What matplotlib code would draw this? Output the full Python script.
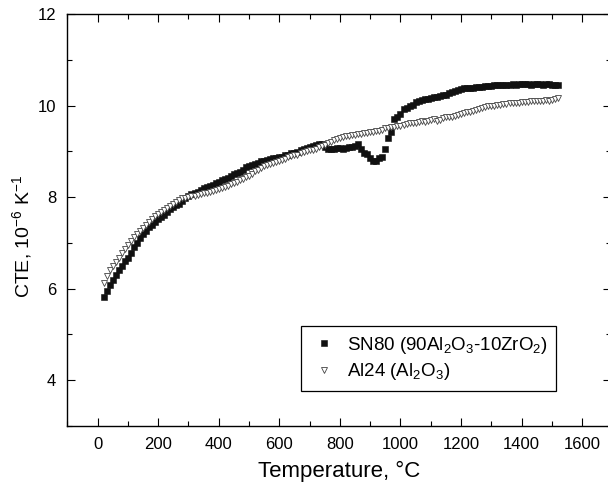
import matplotlib
matplotlib.use('Agg')
import matplotlib.pyplot as plt
from matplotlib.ticker import MultipleLocator

#温度 (°C)
temp = [20, 30, 40, 50, 60, 70, 80, 90, 100, 110,
        120, 130, 140, 150, 160, 170, 180, 190, 200, 210,
        220, 230, 240, 250, 260, 270, 280, 290, 300, 310,
        320, 330, 340, 350, 360, 370, 380, 390, 400, 410,
        420, 430, 440, 450, 460, 470, 480, 490, 500, 510,
        520, 530, 540, 550, 560, 570, 580, 590, 600, 610,
        620, 630, 640, 650, 660, 670, 680, 690, 700, 710,
        720, 730, 740, 750, 760, 770, 780, 790, 800, 810,
        820, 830, 840, 850, 860, 870, 880, 890, 900, 910,
        920, 930, 940, 950, 960, 970, 980, 990, 1000, 1010,
        1020, 1030, 1040, 1050, 1060, 1070, 1080, 1090, 1100, 1110,
        1120, 1130, 1140, 1150, 1160, 1170, 1180, 1190, 1200, 1210,
        1220, 1230, 1240, 1250, 1260, 1270, 1280, 1290, 1300, 1310,
        1320, 1330, 1340, 1350, 1360, 1370, 1380, 1390, 1400, 1410,
        1420, 1430, 1440, 1450, 1460, 1470, 1480, 1490, 1500, 1510,
        1520]

#SN80 (90Al2O3-10ZrO2) のCTE
cte_sn80 = [5.82, 5.95, 6.08, 6.20, 6.30, 6.40, 6.50, 6.60, 6.68, 6.78,
            6.90, 7.00, 7.10, 7.19, 7.27, 7.34, 7.40, 7.45, 7.52, 7.56,
            7.62, 7.68, 7.73, 7.78, 7.82, 7.86, 7.92, 7.98, 8.03, 8.06,
            8.08, 8.12, 8.16, 8.20, 8.22, 8.24, 8.27, 8.30, 8.34, 8.37,
            8.39, 8.42, 8.46, 8.50, 8.52, 8.55, 8.60, 8.65, 8.67, 8.70,
            8.72, 8.75, 8.78, 8.80, 8.82, 8.83, 8.85, 8.86, 8.87, 8.88,
            8.91, 8.93, 8.96, 8.97, 8.99, 9.02, 9.05, 9.08, 9.10, 9.11,
            9.13, 9.15, 9.16, 9.10, 9.05, 9.06, 9.06, 9.07, 9.07, 9.06,
            9.08, 9.09, 9.09, 9.11, 9.15, 9.05, 8.96, 8.94, 8.86, 8.80,
            8.78, 8.85, 8.87, 9.05, 9.30, 9.42, 9.70, 9.76, 9.82, 9.92,
            9.95, 10.00, 10.02, 10.07, 10.10, 10.12, 10.14, 10.15, 10.16, 10.18,
            10.19, 10.21, 10.22, 10.24, 10.27, 10.29, 10.32, 10.35, 10.37, 10.38,
            10.38, 10.39, 10.39, 10.40, 10.40, 10.41, 10.42, 10.43, 10.42, 10.44,
            10.45, 10.44, 10.45, 10.46, 10.46, 10.47, 10.46, 10.47, 10.48, 10.47,
            10.47, 10.46, 10.47, 10.48, 10.47, 10.46, 10.47, 10.47, 10.46, 10.46,
            10.46]

#Al24 (Al2O3) のCTE
cte_al24 = [6.13, 6.28, 6.40, 6.50, 6.58, 6.68, 6.78, 6.86, 6.96, 7.04,
            7.12, 7.19, 7.25, 7.32, 7.39, 7.46, 7.52, 7.58, 7.64, 7.68,
            7.72, 7.76, 7.80, 7.85, 7.90, 7.94, 7.97, 7.99, 8.00, 8.02,
            8.03, 8.05, 8.06, 8.08, 8.09, 8.11, 8.13, 8.15, 8.18, 8.20,
            8.22, 8.25, 8.28, 8.31, 8.34, 8.37, 8.40, 8.43, 8.46, 8.50,
            8.56, 8.60, 8.63, 8.67, 8.70, 8.73, 8.75, 8.77, 8.79, 8.82,
            8.84, 8.87, 8.89, 8.91, 8.93, 8.96, 8.98, 9.00, 9.03, 9.04,
            9.06, 9.09, 9.11, 9.14, 9.18, 9.21, 9.24, 9.27, 9.29, 9.31,
            9.33, 9.34, 9.35, 9.36, 9.37, 9.38, 9.40, 9.41, 9.42, 9.43,
            9.44, 9.45, 9.47, 9.50, 9.52, 9.53, 9.54, 9.55, 9.56, 9.57,
            9.59, 9.61, 9.62, 9.63, 9.64, 9.66, 9.65, 9.67, 9.68, 9.70,
            9.66, 9.69, 9.72, 9.75, 9.76, 9.75, 9.77, 9.80, 9.82, 9.84,
            9.86, 9.87, 9.89, 9.91, 9.93, 9.95, 9.96, 9.98, 9.99, 10.00,
            10.01, 10.02, 10.03, 10.04, 10.05, 10.05, 10.06, 10.05, 10.07, 10.08,
            10.07, 10.09, 10.10, 10.10, 10.09, 10.11, 10.12, 10.11, 10.13, 10.14,
            10.16]

#フォント設定 (Arial相当)
plt.rcParams['font.family'] = ['Liberation Sans', 'DejaVu Sans']
plt.rcParams['mathtext.fontset'] = 'custom'
plt.rcParams['mathtext.rm'] = 'Liberation Sans'
plt.rcParams['mathtext.it'] = 'Liberation Sans:italic'
plt.rcParams['mathtext.default'] = 'regular'

fig = plt.figure(figsize=(6.08, 4.88), dpi=100)
#右端の軸線は画像の外 (元図は右側が切れている)
ax = fig.add_axes([0.1107, 0.127, 0.8942, 0.8443])

ax.plot(temp, cte_sn80, linestyle='none', marker='s', markersize=3.8,
        markerfacecolor='#111111', markeredgecolor='#111111', markeredgewidth=0.4,
        label='SN80 (90Al$_2$O$_3$-10ZrO$_2$)')
ax.plot(temp, cte_al24, linestyle='none', marker='v', markersize=5,
        markerfacecolor='white', markeredgecolor='#444444', markeredgewidth=0.6,
        label='Al24 (Al$_2$O$_3$)')

#軸範囲
ax.set_xlim(-100, 1695)
ax.set_ylim(3, 12)
ax.xaxis.set_major_locator(MultipleLocator(200))
ax.xaxis.set_minor_locator(MultipleLocator(100))
ax.yaxis.set_major_locator(MultipleLocator(2))
ax.yaxis.set_minor_locator(MultipleLocator(1))
ax.set_yticks([4, 6, 8, 10, 12])

#目盛り (内向き、上下左右)
ax.tick_params(which='both', direction='in', top=True, right=True, width=0.8, labelsize=12)
ax.tick_params(which='major', length=6, pad=8)
ax.tick_params(which='minor', length=3.5)
for sp in ax.spines.values():
    sp.set_linewidth(1.0)

ax.set_xlabel('Temperature, °C', fontsize=16, labelpad=6)
ax.set_ylabel('CTE, 10$^{-6}$ K$^{-1}$', fontsize=14)
ax.yaxis.set_label_coords(-0.062, 0.46)

#凡例
leg = ax.legend(loc='upper left', bbox_to_anchor=(0.43, 0.242), borderaxespad=0,
                fontsize=13.5, frameon=True, fancybox=False, edgecolor='black',
                framealpha=1, handletextpad=0.5, borderpad=0.45, labelspacing=0.3,
                handlelength=1.5, markerscale=1.0)
leg.get_frame().set_linewidth(0.9)

plt.savefig('out.png', dpi=100)
plt.close()
